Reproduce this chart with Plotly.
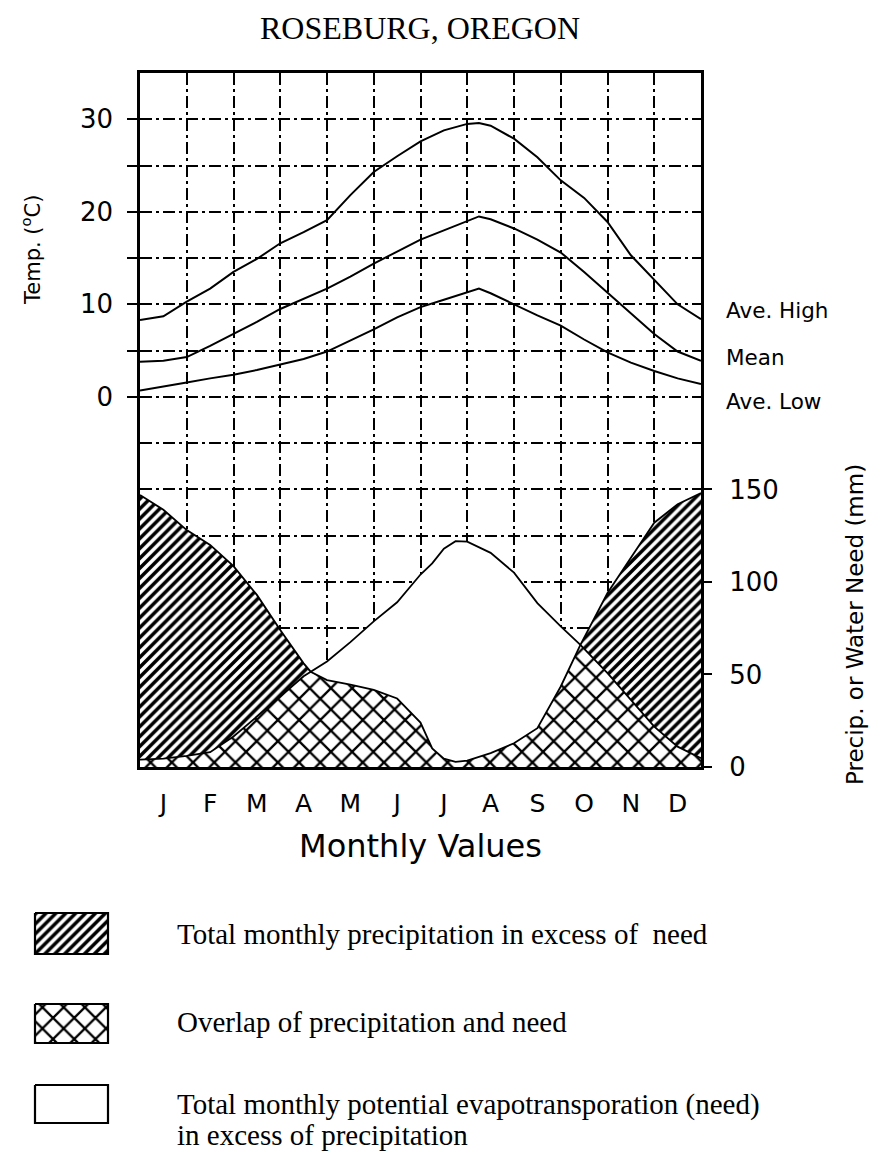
import plotly.graph_objects as go

# ---------------- data ----------------
MONTHS = ["J", "F", "M", "A", "M", "J", "J", "A", "S", "O", "N", "D"]
MONTH_CENTERS = [0.5, 1.5, 2.5, 3.5, 4.5, 5.5, 6.5, 7.5, 8.5, 9.5, 10.5, 11.5]
MONTH_BOUNDS = [1, 2, 3, 4, 5, 6, 7, 8, 9, 10, 11]

# temperature curves (deg C), positions in months from Jan 1
TEMP_POS = [0, 0.5, 1, 1.5, 2, 2.5, 3, 3.5, 4, 4.5, 5, 5.5, 6, 6.5, 7, 7.25, 7.5,
            8, 8.5, 9, 9.5, 10, 10.5, 11, 11.5, 12]
AVE_HIGH = [8.3, 8.7, 10.3, 11.7, 13.5, 14.9, 16.6, 17.8, 19.1, 21.8, 24.3, 26.0, 27.6,
            28.8, 29.5, 29.6, 29.3, 27.9, 25.9, 23.4, 21.5, 18.9, 15.3, 12.7, 10.0, 8.4]
MEAN = [3.8, 3.9, 4.3, 5.5, 6.8, 8.1, 9.5, 10.6, 11.7, 13.0, 14.4, 15.7, 17.0,
        18.0, 19.0, 19.5, 19.2, 18.2, 17.0, 15.6, 13.5, 11.3, 9.0, 6.8, 4.9, 3.9]
AVE_LOW = [0.7, 1.1, 1.55, 2.0, 2.4, 2.9, 3.5, 4.1, 4.9, 6.1, 7.3, 8.6, 9.7,
           10.5, 11.3, 11.7, 11.2, 10.0, 8.8, 7.7, 6.2, 4.8, 3.7, 2.8, 2.0, 1.4]

# precipitation and water need (mm)
PREC_POS = [0, 0.5, 1, 1.5, 2, 2.5, 3, 3.5, 3.65, 4, 4.5, 5, 5.5, 6, 6.25, 6.5, 6.75,
            7, 7.5, 8, 8.5, 9, 9.42, 10, 10.5, 11, 11.5, 12]
PRECIP = [147, 139, 128, 120, 108.5, 93, 74, 56, 51.5, 47, 44.5, 41.7, 37, 24, 10, 4.5,
          2.8, 3.5, 7.5, 12.8, 21, 43.5, 66, 94, 113, 132, 142, 148]
NEED = [4, 4.5, 6, 8, 16.5, 27, 38, 49, 51.5, 57, 67.5, 78.7, 89, 104, 110, 118, 122,
        121.8, 115.7, 105, 88.6, 76, 66, 50.7, 36.3, 21.8, 11, 4.7]

TEMP_MAJOR = [0, 10, 20, 30]
TEMP_MINOR = [5, 15, 25]
MM_TICKS = [0, 50, 100, 150]
MM_MINOR_GRID = [25, 75, 125, 175]

CURVE_LABELS = ["Ave. High", "Mean", "Ave. Low"]
LEGEND_LINES = [
    "Total monthly precipitation in excess of  need",
    "Overlap of precipitation and need",
    "Total monthly potential evapotransporation (need)",
    "in excess of precipitation",
]

# ---------------- figure ----------------
W, H = 871, 1151
SANS = "DejaVu Sans"
SERIF = "Liberation Serif"
GRID_DASH = "12px,4px,3px,4px"
HATCH = dict(shape="/", fgcolor="black", bgcolor="white", fgopacity=1, size=7, solidity=0.5)
CROSS = dict(shape="x", fgcolor="black", bgcolor="white", fgopacity=1, size=15, solidity=0.28)
OPAQUE_WHITE = "rgba(255,255,255,1)"

overlap = [min(p, n) for p, n in zip(PRECIP, NEED)]
upper = [max(p, n) for p, n in zip(PRECIP, NEED)]
zero = [0 for _ in PREC_POS]

fig = go.Figure()
common = dict(showlegend=False, hoverinfo="skip")

fig.add_trace(go.Scatter(x=PREC_POS, y=zero, yaxis="y2", mode="lines",
                         line=dict(width=0, color="black"), **common))
fig.add_trace(go.Scatter(x=PREC_POS, y=overlap, yaxis="y2", mode="lines",
                         line=dict(width=0, color="black"), fill="tonexty",
                         fillcolor=OPAQUE_WHITE, fillpattern=CROSS,
                         name="Overlap", **common))
fig.add_trace(go.Scatter(x=PREC_POS, y=PRECIP, yaxis="y2", mode="lines",
                         line=dict(width=0, color="black"), fill="tonexty",
                         fillcolor=OPAQUE_WHITE, fillpattern=HATCH,
                         name="Excess precipitation", **common))
fig.add_trace(go.Scatter(x=PREC_POS, y=upper, yaxis="y2", mode="lines",
                         line=dict(width=0, color="black"), fill="tonexty",
                         fillcolor=OPAQUE_WHITE, name="Excess need", **common))
fig.add_trace(go.Scatter(x=PREC_POS, y=PRECIP, yaxis="y2", mode="lines",
                         line=dict(color="black", width=1.8), name="Precipitation", **common))
fig.add_trace(go.Scatter(x=PREC_POS, y=NEED, yaxis="y2", mode="lines",
                         line=dict(color="black", width=1.8), name="Need", **common))

for name, vals in zip(CURVE_LABELS, [AVE_HIGH, MEAN, AVE_LOW]):
    fig.add_trace(go.Scatter(x=TEMP_POS, y=vals, yaxis="y", mode="lines",
                             line=dict(color="black", width=2), name=name, **common))

# legend swatches drawn in their own small axes
LEG_ROWS = [(913, 954, HATCH), (1004, 1043, CROSS), (1085, 1123, None)]
for (top, bot, fp) in LEG_ROWS:
    kw = dict(fillpattern=fp) if fp else {}
    fig.add_trace(go.Scatter(x=[35, 108, 108, 35, 35], y=[top, top, bot, bot, top],
                             xaxis="x3", yaxis="y3", mode="lines", fill="toself",
                             fillcolor=OPAQUE_WHITE,
                             line=dict(color="black", width=2.2), **kw, **common))

x0, x1 = 140 / W, 701 / W
y0, y1 = 1 - 767 / H, 1 - 73 / H

grid = dict(gridcolor="black", gridwidth=1.7, griddash=GRID_DASH)

fig.update_layout(
    width=W, height=H,
    margin=dict(l=0, r=0, t=0, b=0),
    paper_bgcolor="white", plot_bgcolor="white",
    font=dict(family=SANS, color="black"),
    xaxis=dict(domain=[x0, x1], range=[0, 12], tickvals=MONTH_CENTERS, ticktext=MONTHS,
               ticks="", showgrid=False, zeroline=False,
               minor=dict(tickvals=MONTH_BOUNDS, showgrid=True, ticks="", **grid),
               showline=True, linecolor="black", linewidth=2.5, mirror=True,
               tickfont=dict(size=25), ticklabelstandoff=12,
               title=dict(text="Monthly Values", font=dict(size=32), standoff=18),
               automargin=False, fixedrange=True),
    yaxis=dict(domain=[y0, y1], range=[-40, 35], tickvals=TEMP_MAJOR,
               ticks="outside", ticklen=10, tickwidth=2, tickcolor="black",
               showgrid=True, **grid, zeroline=False,
               minor=dict(tickvals=TEMP_MINOR, showgrid=True, ticks="outside", ticklen=10,
                          tickwidth=2, tickcolor="black", **grid),
               showline=True, linecolor="black", linewidth=2.5, mirror=True,
               tickfont=dict(size=26), ticklabelstandoff=9,
               automargin=False, fixedrange=True),
    yaxis2=dict(overlaying="y", anchor="x", side="right", range=[0, 375], tickvals=MM_TICKS,
                ticks="outside", ticklen=10, tickwidth=2, tickcolor="black",
                showgrid=True, **grid, zeroline=False, showline=False,
                minor=dict(tickvals=MM_MINOR_GRID, showgrid=True, ticks="", **grid),
                tickfont=dict(size=26), ticklabelstandoff=12,
                automargin=False, fixedrange=True),
    xaxis3=dict(domain=[0, 1], range=[0, W], visible=False, anchor="y3", fixedrange=True),
    yaxis3=dict(domain=[0, 271 / H], range=[H, 880], visible=False, anchor="x3", fixedrange=True),
)

ann = [
    dict(text="ROSEBURG, OREGON", x=420 / W, y=1 - 28 / H, xref="paper", yref="paper",
         showarrow=False, font=dict(family=SERIF, size=32), xanchor="center", yanchor="middle"),
    dict(text="Temp. (<sup>o</sup>C)", x=31 / W, y=1 - 250 / H, xref="paper", yref="paper",
         showarrow=False, textangle=-90, font=dict(size=21), xanchor="center", yanchor="middle"),
    dict(text="Precip. or Water Need (mm)", x=855 / W, y=1 - 625 / H, xref="paper",
         yref="paper", showarrow=False, textangle=-90, font=dict(size=23),
         xanchor="center", yanchor="middle"),
]
for label, ly in zip(CURVE_LABELS, [9.3, 4.3, -0.45]):
    ann.append(dict(text=label, x=724 / W, y=ly, xref="paper", yref="y", showarrow=False,
                    font=dict(size=21.5), xanchor="left", yanchor="middle"))
for txt, ty in zip(LEGEND_LINES, [934, 1022, 1104, 1135]):
    ann.append(dict(text=txt, x=175 / W, y=1 - ty / H, xref="paper", yref="paper",
                    showarrow=False, font=dict(family=SERIF, size=29), xanchor="left",
                    yanchor="middle", align="left"))
fig.update_layout(annotations=ann)

fig.write_html("out.html", config={"displayModeBar": False},
               post_script="document.body.style.margin='0';")
